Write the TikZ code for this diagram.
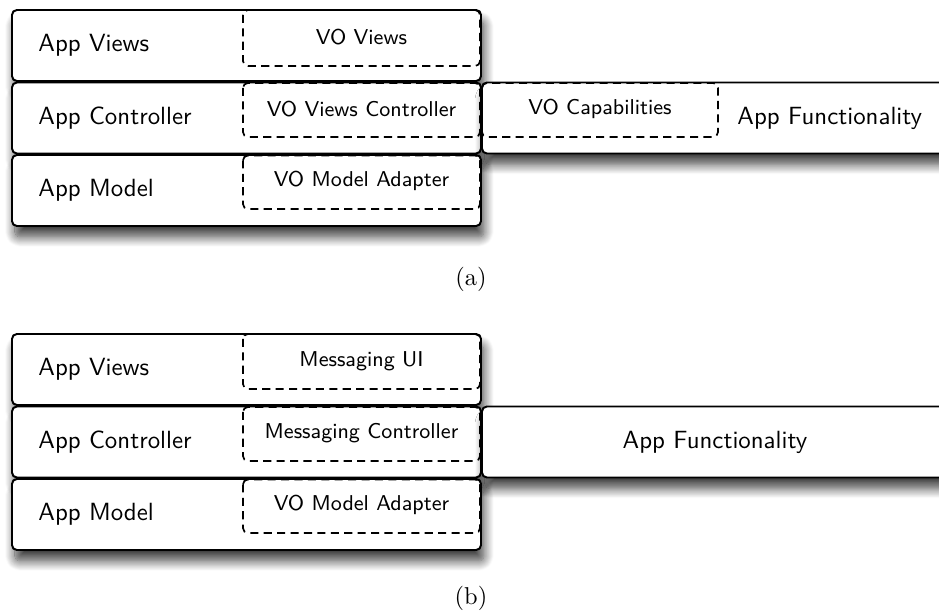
\documentclass[tikz,border=0pt]{standalone}
\usepackage{fontspec}
\usetikzlibrary{shadows.blur}
\begin{document}
\begin{tikzpicture}[x=0.41pt,y=-0.41pt,
  box/.style={draw=black, line width=0.8pt, rounded corners=2pt, fill=white,
    blur shadow={shadow xshift=1.2pt, shadow yshift=-4.5pt, shadow blur radius=4pt, shadow blur steps=12, shadow opacity=75}},
  dbox/.style={draw=black, line width=0.7pt, dash pattern=on 3.3pt off 2.2pt, rounded corners=2pt},
  lbl/.style={font=\sffamily\fontsize{10.2}{12}\selectfont, anchor=west, inner sep=0pt},
  dlbl/.style={font=\sffamily\fontsize{8.8}{10}\selectfont, inner sep=0pt},
  captxt/.style={font=\rmfamily\fontsize{10}{12}\selectfont, inner sep=0pt}]
\useasboundingbox (0,0) rectangle (939,615);
\clip (0,0) rectangle (939,615);
% ---------- (a) ----------
\draw[box] (12,10) rectangle (481,81);
\draw[box] (12,82.5) rectangle (481,153.5);
\draw[box] (482,82.5) rectangle (960,153.5);
\draw[box] (12,155) rectangle (481,226);
\draw[dbox] (243,10) rectangle (480,66);
\draw[dbox] (243,83) rectangle (480,137);
\draw[dbox] (243,155.5) rectangle (480,209);
\draw[dbox] (482,83) rectangle (718,137);
\node[lbl] (av) at (38,45.5) {App Views};
\node[lbl] (ac) at (38,118) {App Controller};
\node[lbl] (am) at (38,190.5) {App Model};
\node[dlbl] (vov) at (361.5,37) {VO Views};
\node[dlbl] (vovc) at (361.5,109) {VO Views Controller};
\node[dlbl] (voma) at (361.5,181) {VO Model Adapter};
\node[dlbl] (voc) at (600,109) {VO Capabilities};
\node[lbl] (af) at (737,118) {App Functionality};
\node[captxt] (capa) at (471,279) {(a)};
% ---------- (b) ----------
\draw[box] (12,334) rectangle (481,405);
\draw[box] (12,406.5) rectangle (481,477.5);
\draw[box] (482,406.5) rectangle (948,477.5);
\draw[box] (12,479) rectangle (481,550);
\draw[dbox] (243,334) rectangle (480,389);
\draw[dbox] (243,407) rectangle (480,461);
\draw[dbox] (243,479.5) rectangle (480,533);
\node[lbl] (bav) at (38,369.5) {App Views};
\node[lbl] (bac) at (38,442) {App Controller};
\node[lbl] (bam) at (38,514.5) {App Model};
\node[dlbl] (bmu) at (361.5,361) {Messaging UI};
\node[dlbl] (bmc) at (361.5,433) {Messaging Controller};
\node[dlbl] (bvoma) at (361.5,505) {VO Model Adapter};
\node[font=\sffamily\fontsize{10.2}{12}\selectfont, inner sep=0pt] (baf) at (715,442) {App Functionality};
\node[captxt] (capb) at (471,598) {(b)};
\end{tikzpicture}
\end{document}
